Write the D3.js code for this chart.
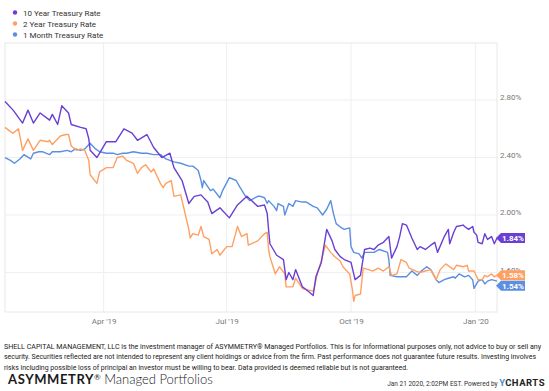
<!DOCTYPE html>
<html>
<head>
<meta charset="utf-8">
<script src="https://cdn.jsdelivr.net/npm/d3@7"></script>
<style>
  body { margin: 0; background: #fff; }
  svg { display: block; font-family: Roboto, "Noto Sans", sans-serif; }
</style>
</head>
<body>
<svg width="549" height="391"></svg>
<script>
// data
var seriesNames = ["10 Year Treasury Rate", "2 Year Treasury Rate", "1 Month Treasury Rate"];
var seriesColors = ["#6a3fd3", "#ffa062", "#5b8fe0"];

var dates10y = ["2019-01-18","2019-01-24","2019-01-31","2019-02-04","2019-02-08","2019-02-13","2019-02-20","2019-02-22","2019-02-26","2019-03-01","2019-03-06","2019-03-08","2019-03-15","2019-03-19","2019-03-21","2019-03-22","2019-03-27","2019-04-03","2019-04-10","2019-04-16","2019-04-22","2019-04-26","2019-05-03","2019-05-08","2019-05-14","2019-05-20","2019-05-23","2019-05-29","2019-06-03","2019-06-07","2019-06-12","2019-06-17","2019-06-20","2019-06-26","2019-07-03","2019-07-09","2019-07-16","2019-07-24","2019-07-29","2019-07-31","2019-08-01","2019-08-02","2019-08-07","2019-08-12","2019-08-14","2019-08-16","2019-08-19","2019-08-21","2019-08-26","2019-08-29","2019-09-03","2019-09-05","2019-09-09","2019-09-13","2019-09-17","2019-09-19","2019-09-23","2019-09-26","2019-10-01","2019-10-04","2019-10-08","2019-10-11","2019-10-15","2019-10-18","2019-10-21","2019-10-25","2019-10-29","2019-10-31","2019-11-04","2019-11-06","2019-11-08","2019-11-11","2019-11-15","2019-11-19","2019-11-21","2019-11-25","2019-11-29","2019-12-02","2019-12-04","2019-12-09","2019-12-12","2019-12-13","2019-12-16","2019-12-18","2019-12-23","2019-12-24","2019-12-27","2019-12-30","2019-12-31","2020-01-02","2020-01-03","2020-01-06","2020-01-08","2020-01-10","2020-01-13","2020-01-15","2020-01-17"];
var rate10y = [2.79,2.73,2.64,2.73,2.64,2.71,2.66,2.70,2.63,2.76,2.71,2.63,2.61,2.60,2.53,2.45,2.40,2.51,2.51,2.60,2.57,2.52,2.56,2.47,2.40,2.43,2.33,2.24,2.08,2.13,2.14,2.09,2.01,2.05,1.98,2.07,2.13,2.06,2.07,2.01,1.90,1.80,1.72,1.69,1.55,1.60,1.55,1.62,1.50,1.48,1.44,1.57,1.67,1.90,1.82,1.76,1.71,1.69,1.67,1.55,1.58,1.76,1.77,1.76,1.79,1.81,1.85,1.70,1.78,1.85,1.94,1.93,1.84,1.76,1.78,1.76,1.79,1.81,1.74,1.85,1.90,1.80,1.88,1.92,1.93,1.92,1.90,1.92,1.88,1.86,1.81,1.80,1.87,1.83,1.85,1.80,1.84];

var dates2y = ["2019-01-18","2019-01-22","2019-01-24","2019-01-28","2019-01-31","2019-02-04","2019-02-08","2019-02-13","2019-02-19","2019-02-20","2019-02-22","2019-02-28","2019-03-04","2019-03-06","2019-03-08","2019-03-12","2019-03-15","2019-03-18","2019-03-21","2019-03-22","2019-03-27","2019-03-29","2019-04-03","2019-04-08","2019-04-11","2019-04-15","2019-04-18","2019-04-23","2019-04-26","2019-04-29","2019-05-02","2019-05-06","2019-05-08","2019-05-13","2019-05-15","2019-05-17","2019-05-21","2019-05-23","2019-05-28","2019-05-30","2019-06-03","2019-06-04","2019-06-06","2019-06-10","2019-06-12","2019-06-14","2019-06-18","2019-06-20","2019-06-24","2019-06-26","2019-07-01","2019-07-05","2019-07-09","2019-07-12","2019-07-16","2019-07-17","2019-07-24","2019-07-29","2019-07-31","2019-08-01","2019-08-02","2019-08-06","2019-08-09","2019-08-13","2019-08-14","2019-08-19","2019-08-21","2019-08-26","2019-08-29","2019-09-03","2019-09-04","2019-09-06","2019-09-09","2019-09-12","2019-09-16","2019-09-19","2019-09-23","2019-09-25","2019-09-30","2019-10-02","2019-10-03","2019-10-04","2019-10-08","2019-10-10","2019-10-14","2019-10-17","2019-10-21","2019-10-25","2019-10-29","2019-10-31","2019-11-04","2019-11-07","2019-11-11","2019-11-13","2019-11-18","2019-11-21","2019-11-25","2019-11-29","2019-12-03","2019-12-06","2019-12-10","2019-12-16","2019-12-18","2019-12-23","2019-12-26","2019-12-27","2019-12-31","2020-01-03","2020-01-06","2020-01-08","2020-01-10","2020-01-13","2020-01-15","2020-01-17"];
var rate2y = [2.61,2.58,2.57,2.60,2.45,2.53,2.45,2.52,2.51,2.52,2.49,2.55,2.56,2.56,2.48,2.45,2.46,2.45,2.38,2.28,2.22,2.30,2.33,2.33,2.40,2.41,2.38,2.36,2.29,2.33,2.35,2.30,2.32,2.22,2.19,2.22,2.24,2.13,2.14,2.06,1.90,1.84,1.87,1.86,1.92,1.85,1.83,1.73,1.76,1.72,1.78,1.78,1.92,1.85,1.87,1.79,1.82,1.87,1.88,1.76,1.71,1.59,1.64,1.59,1.50,1.50,1.56,1.49,1.48,1.47,1.50,1.59,1.68,1.79,1.74,1.71,1.68,1.64,1.59,1.48,1.40,1.44,1.45,1.63,1.62,1.61,1.63,1.61,1.64,1.58,1.59,1.69,1.67,1.63,1.61,1.60,1.61,1.62,1.55,1.62,1.66,1.62,1.65,1.64,1.65,1.61,1.61,1.55,1.55,1.58,1.57,1.59,1.57,1.58];

var dates1m = ["2019-01-18","2019-01-22","2019-01-25","2019-01-29","2019-02-01","2019-02-06","2019-02-08","2019-02-12","2019-02-15","2019-02-20","2019-02-22","2019-02-28","2019-03-05","2019-03-08","2019-03-11","2019-03-15","2019-03-18","2019-03-19","2019-03-22","2019-03-26","2019-03-29","2019-04-03","2019-04-08","2019-04-11","2019-04-15","2019-04-18","2019-04-23","2019-04-29","2019-05-03","2019-05-08","2019-05-13","2019-05-17","2019-05-23","2019-05-28","2019-06-03","2019-06-06","2019-06-10","2019-06-12","2019-06-13","2019-06-14","2019-06-19","2019-06-21","2019-06-26","2019-06-28","2019-07-03","2019-07-08","2019-07-11","2019-07-15","2019-07-18","2019-07-24","2019-07-26","2019-07-29","2019-07-31","2019-08-01","2019-08-05","2019-08-07","2019-08-08","2019-08-12","2019-08-13","2019-08-16","2019-08-19","2019-08-21","2019-08-26","2019-08-29","2019-09-03","2019-09-06","2019-09-10","2019-09-13","2019-09-16","2019-09-18","2019-09-20","2019-09-24","2019-09-26","2019-09-30","2019-10-01","2019-10-03","2019-10-07","2019-10-09","2019-10-11","2019-10-15","2019-10-18","2019-10-22","2019-10-28","2019-10-29","2019-10-30","2019-11-04","2019-11-06","2019-11-11","2019-11-15","2019-11-19","2019-11-22","2019-11-26","2019-11-29","2019-12-03","2019-12-05","2019-12-09","2019-12-12","2019-12-16","2019-12-17","2019-12-20","2019-12-24","2019-12-27","2019-12-30","2019-12-31","2020-01-03","2020-01-06","2020-01-08","2020-01-10","2020-01-13","2020-01-17"];
var rate1m = [2.40,2.38,2.36,2.39,2.42,2.39,2.43,2.44,2.44,2.42,2.44,2.44,2.45,2.44,2.46,2.45,2.46,2.47,2.50,2.46,2.44,2.43,2.43,2.42,2.43,2.43,2.44,2.43,2.43,2.42,2.42,2.39,2.37,2.36,2.34,2.34,2.31,2.24,2.19,2.24,2.17,2.18,2.12,2.17,2.26,2.24,2.19,2.13,2.10,2.13,2.13,2.12,2.08,2.10,2.06,2.03,2.08,2.06,2.00,2.08,2.06,2.10,2.09,2.09,2.06,2.05,2.00,2.04,2.10,2.01,1.94,1.91,1.90,1.91,1.78,1.74,1.73,1.70,1.74,1.74,1.74,1.76,1.74,1.69,1.58,1.57,1.57,1.57,1.61,1.58,1.61,1.64,1.62,1.55,1.53,1.55,1.56,1.57,1.56,1.59,1.57,1.58,1.55,1.49,1.54,1.55,1.52,1.54,1.55,1.54];

var xTickDates = ["2019-04-01", "2019-07-01", "2019-10-01", "2020-01-01"];
var xTickLabels = ["Apr '19", "Jul '19", "Oct '19", "Jan '20"];
var yTicks = [1.6, 2.0, 2.4, 2.8];

var disclaimer = [
  "SHELL CAPITAL MANAGEMENT, LLC is the investment manager of ASYMMETRY\u00ae Managed Portfolios. This is for informational purposes only, not advice to buy or sell any",
  "security. Securities reflected are not intended to represent any client holdings or advice from the firm. Past performance does not guarantee future results. Investing involves",
  "risks including possible loss of principal an investor must be willing to bear. Data provided is deemed reliable but is not guaranteed."
];

var parse = d3.timeParse("%Y-%m-%d");
var svg = d3.select("svg");

var plotLeft = 5, plotRight = 497, plotTop = 43, plotBottom = 312;

var x = d3.scaleTime()
    .domain([parse("2019-01-18"), parse("2020-01-17")])
    .range([plotLeft, plotRight]);
var y = d3.scaleLinear()
    .domain([1.325, 3.197])
    .range([plotBottom, plotTop]);

var series = [
  {name: seriesNames[0], color: seriesColors[0], dates: dates10y, values: rate10y},
  {name: seriesNames[1], color: seriesColors[1], dates: dates2y, values: rate2y},
  {name: seriesNames[2], color: seriesColors[2], dates: dates1m, values: rate1m}
];
series.forEach(function(s) {
  s.points = s.dates.map(function(d, i) { return {date: parse(d), value: s.values[i]}; });
});

// legend
var legend = svg.append("g");
series.forEach(function(s, i) {
  var ly = 12.5 + i * 11;
  legend.append("circle").attr("cx", 15).attr("cy", ly).attr("r", 2.2).attr("fill", s.color);
  legend.append("text").attr("x", 23).attr("y", ly + 3)
    .attr("font-size", 8).attr("fill", "#333").text(s.name);
});

// grid
var grid = svg.append("g");
grid.selectAll(".hg").data(yTicks).enter().append("line")
  .attr("x1", plotLeft).attr("x2", plotRight)
  .attr("y1", function(d) { return y(d); }).attr("y2", function(d) { return y(d); })
  .attr("stroke", "#efefef").attr("stroke-width", 1);
grid.selectAll(".vg").data(xTickDates).enter().append("line")
  .attr("x1", function(d) { return x(parse(d)); }).attr("x2", function(d) { return x(parse(d)); })
  .attr("y1", plotTop).attr("y2", plotBottom)
  .attr("stroke", "#efefef").attr("stroke-width", 1);
svg.append("rect")
  .attr("x", plotLeft).attr("y", plotTop).attr("width", plotRight - plotLeft).attr("height", plotBottom - plotTop)
  .attr("fill", "none").attr("stroke", "#e8e8e8").attr("stroke-width", 1);

// axes (labels only)
var yAxis = svg.append("g")
  .attr("transform", "translate(" + plotRight + ",-3)")
  .call(d3.axisRight(y).tickValues(yTicks).tickSize(0).tickPadding(3)
    .tickFormat(function(d) { return d.toFixed(2) + "%"; }));
yAxis.select(".domain").remove();
yAxis.selectAll("text").attr("font-family", "Roboto").attr("font-size", 8).attr("fill", "#777");

var xAxis = svg.append("g")
  .attr("transform", "translate(0," + plotBottom + ")")
  .call(d3.axisBottom(x).tickValues(xTickDates.map(parse)).tickSize(0).tickPadding(6)
    .tickFormat(function(d, i) { return xTickLabels[i]; }));
xAxis.select(".domain").remove();
xAxis.selectAll("text").attr("font-family", "Roboto").attr("font-size", 8).attr("fill", "#777");

// lines
var line = d3.line()
  .x(function(d) { return x(d.date); })
  .y(function(d) { return y(d.value); });

svg.selectAll(".series").data(series.slice().reverse()).enter().append("path")
  .attr("fill", "none")
  .attr("stroke", function(d) { return d.color; })
  .attr("stroke-width", 1.4)
  .attr("stroke-linejoin", "round")
  .attr("d", function(d) { return line(d.points); });

// end-value flags, nudged apart so they don't overlap
var flags = series.map(function(s) {
  var last = s.points[s.points.length - 1];
  return {color: s.color, value: last.value, cy: y(last.value)};
}).sort(function(a, b) { return a.cy - b.cy; });
for (var i = 1; i < flags.length; i++) {
  if (flags[i].cy - flags[i - 1].cy < 10.5) flags[i].cy = flags[i - 1].cy + 10.5;
}
var fg = svg.append("g");
flags.forEach(function(f) {
  var c = f.cy;
  fg.append("path")
    .attr("d", "M" + 496 + "," + c + "L" + 501 + "," + (c - 5) + "L525," + (c - 5) +
      "L525," + (c + 5) + "L501," + (c + 5) + "Z")
    .attr("fill", f.color);
  fg.append("text").attr("x", 513).attr("y", c + 3)
    .attr("text-anchor", "middle").attr("font-size", 8).attr("font-weight", "bold")
    .attr("fill", "#fff").text(f.value.toFixed(2) + "%");
});

// footer
var foot = svg.append("g");
var lineEnds = [541, 536, 408];
disclaimer.forEach(function(t, i) {
  foot.append("text")
    .attr("x", 4).attr("y", 349 + i * 10.3)
    .attr("font-size", 7.1).attr("fill", "#222")
    .attr("textLength", lineEnds[i] - 4).attr("lengthAdjust", "spacingAndGlyphs")
    .text(t);
});

var brand = foot.append("text").attr("x", 8).attr("y", 384)
  .attr("font-family", "Lato, 'Open Sans', sans-serif").attr("font-size", 13).attr("fill", "#1a1a1a");
brand.append("tspan").attr("font-weight", "bold").attr("letter-spacing", 0.6).text("ASYMMETRY");
brand.append("tspan").attr("font-size", 8).attr("dy", -4).text("\u00ae");
brand.append("tspan").attr("dy", 4).attr("font-weight", 300).text(" Managed Portfolios");

var powered = foot.append("text").attr("x", 545).attr("y", 386)
  .attr("text-anchor", "end").attr("fill", "#333");
powered.append("tspan").attr("font-size", 6.5).text("Jan 21 2020, 2:02PM EST. Powered by ");
powered.append("tspan").attr("font-size", 9.5).attr("font-weight", "bold").attr("fill", "#4a90d9").text("Y");
powered.append("tspan").attr("font-size", 9.5).attr("font-weight", "bold").attr("fill", "#222").attr("letter-spacing", 0.5).text("CHARTS");
</script>
</body>
</html>
